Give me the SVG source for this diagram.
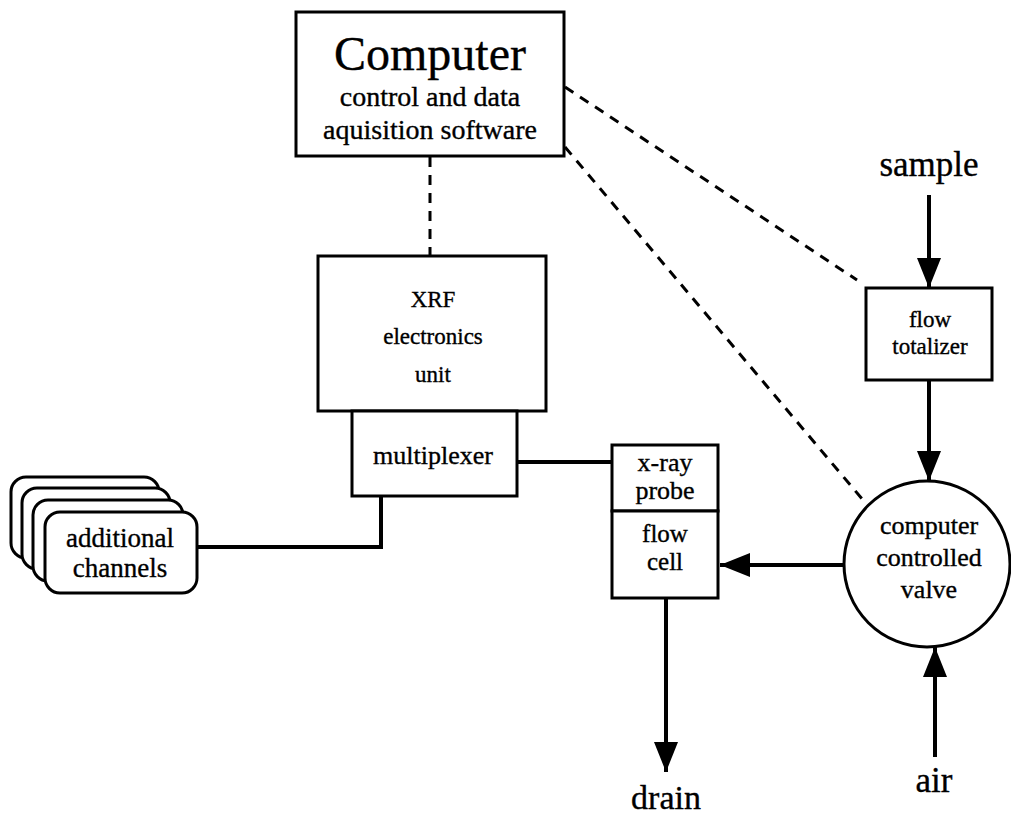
<svg xmlns="http://www.w3.org/2000/svg" width="1011" height="821" viewBox="0 0 1011 821">
<style>
.box{fill:#fff;stroke:#000;stroke-width:3}
.t{font-family:"Liberation Serif","Times New Roman",serif;fill:#000;stroke:#000;stroke-width:0.35;text-anchor:middle}
.solid{fill:none;stroke:#000;stroke-width:4}
.dash{fill:none;stroke:#000;stroke-width:3;stroke-dasharray:10 8}
</style>
<defs>
<marker id="ah" viewBox="0 0 30 24" refX="30" refY="12" markerWidth="30" markerHeight="24" markerUnits="userSpaceOnUse" orient="auto">
<path d="M0,0 L30,12 L0,24 Z" fill="#000"/>
</marker>
</defs>
<rect width="1011" height="821" fill="#fff"/>
<g id="connectors">
<line class="dash" x1="430" y1="157" x2="430" y2="256"/>
<line class="dash" x1="565" y1="87" x2="857" y2="280"/>
<line class="dash" x1="565" y1="147" x2="863" y2="500"/>
<line class="solid" x1="517" y1="462" x2="612" y2="462"/>
<polyline class="solid" points="381,496 381,547 198,547"/>
<line class="solid" x1="929" y1="195" x2="929" y2="288" marker-end="url(#ah)"/>
<line class="solid" x1="929" y1="380" x2="929" y2="481" marker-end="url(#ah)"/>
<line class="solid" x1="844" y1="565" x2="720" y2="565" marker-end="url(#ah)"/>
<line class="solid" x1="666" y1="598" x2="666" y2="772" marker-end="url(#ah)"/>
<line class="solid" x1="935" y1="757" x2="935" y2="647" marker-end="url(#ah)"/>
</g>
<g id="computer">
<rect class="box" x="296" y="12" width="268" height="144"/>
<text class="t" x="430" y="70" font-size="48">Computer</text>
<text class="t" x="430" y="106" font-size="28">control and data</text>
<text class="t" x="430" y="139" font-size="28">aquisition software</text>
</g>
<g id="xrf">
<rect class="box" x="318" y="256" width="228" height="155"/>
<text class="t" x="433" y="307" font-size="23">XRF</text>
<text class="t" x="433" y="344" font-size="23">electronics</text>
<text class="t" x="433" y="382" font-size="23">unit</text>
</g>
<g id="multiplexer">
<rect class="box" x="352" y="411" width="165" height="85"/>
<text class="t" x="433" y="464" font-size="26">multiplexer</text>
</g>
<g id="xray-probe">
<rect class="box" x="612" y="445" width="106" height="66"/>
<text class="t" x="665" y="471" font-size="26">x-ray</text>
<text class="t" x="665" y="499" font-size="26">probe</text>
</g>
<g id="flow-cell">
<rect class="box" x="612" y="511" width="106" height="87"/>
<text class="t" x="665" y="542" font-size="25">flow</text>
<text class="t" x="665" y="570" font-size="25">cell</text>
</g>
<g id="additional-channels">
<rect class="box" x="11" y="477" width="148" height="81" rx="15"/>
<rect class="box" x="22" y="488" width="148" height="81" rx="15"/>
<rect class="box" x="33" y="500" width="150" height="81" rx="15"/>
<rect class="box" x="45" y="512" width="152" height="81" rx="15"/>
<text class="t" x="120" y="547" font-size="27">additional</text>
<text class="t" x="120" y="577" font-size="27">channels</text>
</g>
<g id="flow-totalizer">
<rect class="box" x="866" y="288" width="126" height="92"/>
<text class="t" x="930" y="327" font-size="23">flow</text>
<text class="t" x="930" y="354" font-size="23">totalizer</text>
</g>
<g id="valve">
<circle class="box" cx="927" cy="564" r="83"/>
<text class="t" x="929" y="534" font-size="26">computer</text>
<text class="t" x="929" y="566" font-size="26">controlled</text>
<text class="t" x="929" y="598" font-size="26">valve</text>
</g>
<g id="labels">
<text class="t" x="929" y="176" font-size="35">sample</text>
<text class="t" x="666" y="809" font-size="34">drain</text>
<text class="t" x="934" y="792" font-size="35">air</text>
</g>
</svg>
